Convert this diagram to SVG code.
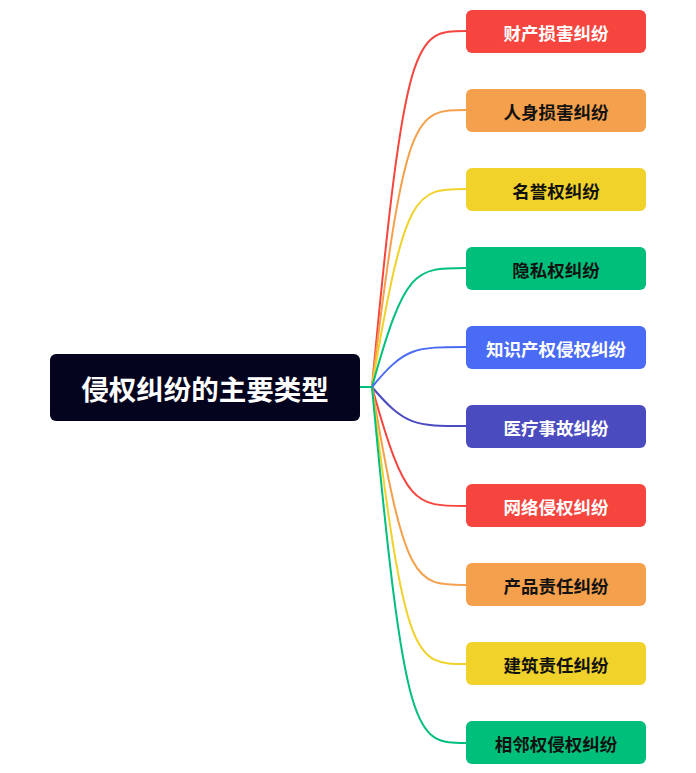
<svg xmlns="http://www.w3.org/2000/svg" width="696" height="773" viewBox="0 0 696 773">
<style>
text{font-family:"Noto Sans CJK SC","Noto Sans",sans-serif;font-weight:bold;text-anchor:middle;dominant-baseline:central}
.c{font-size:17.5px}
.w{fill:#ffffff}
.k{fill:#111111}
path{fill:none;stroke-width:2}
</style>
<rect width="696" height="773" fill="#ffffff"/>
<g id="connectors">
<path d="M372,387 C405,31 415,31 466,31" stroke="#F5453E"/>
<path d="M372,387 C405,110 415,110 466,110" stroke="#F4A04C"/>
<path d="M372,387 C405,189 415,189 466,189" stroke="#F0D22A"/>
<path d="M372,387 C405,268 415,268 466,268" stroke="#00BF7A"/>
<path d="M372,387 C405,347 415,347 466,347" stroke="#4A6BF5"/>
<path d="M372,387 C405,426 415,426 466,426" stroke="#4B4BC0"/>
<path d="M372,387 C405,506 415,506 466,506" stroke="#F5453E"/>
<path d="M372,387 C405,585 415,585 466,585" stroke="#F4A04C"/>
<path d="M372,387 C405,664 415,664 466,664" stroke="#F0D22A"/>
<path d="M372,387 C405,743 415,743 466,743" stroke="#00BF7A"/>
<path d="M360,387 L372,387" stroke="#00BF7A"/>
</g>
<g id="root">
<rect x="50" y="354" width="310" height="67" rx="6" fill="#05041E"/>
<text x="205" y="388" font-size="27.5" class="w">侵权纠纷的主要类型</text>
</g>
<g id="n1"><rect x="466" y="10" width="180" height="43" rx="6" fill="#F5453E"/><text x="556" y="32" class="c w">财产损害纠纷</text></g>
<g id="n2"><rect x="466" y="89" width="180" height="43" rx="6" fill="#F4A04C"/><text x="556" y="111" class="c k">人身损害纠纷</text></g>
<g id="n3"><rect x="466" y="168" width="180" height="43" rx="6" fill="#F0D22A"/><text x="556" y="190" class="c k">名誉权纠纷</text></g>
<g id="n4"><rect x="466" y="247" width="180" height="43" rx="6" fill="#00BF7A"/><text x="556" y="269" class="c k">隐私权纠纷</text></g>
<g id="n5"><rect x="466" y="326" width="180" height="43" rx="6" fill="#4A6BF5"/><text x="556" y="348" class="c w">知识产权侵权纠纷</text></g>
<g id="n6"><rect x="466" y="405" width="180" height="43" rx="6" fill="#4B4BC0"/><text x="556" y="427" class="c w">医疗事故纠纷</text></g>
<g id="n7"><rect x="466" y="484" width="180" height="43" rx="6" fill="#F5453E"/><text x="556" y="506" class="c w">网络侵权纠纷</text></g>
<g id="n8"><rect x="466" y="563" width="180" height="43" rx="6" fill="#F4A04C"/><text x="556" y="585" class="c k">产品责任纠纷</text></g>
<g id="n9"><rect x="466" y="642" width="180" height="43" rx="6" fill="#F0D22A"/><text x="556" y="664" class="c k">建筑责任纠纷</text></g>
<g id="n10"><rect x="466" y="721" width="180" height="43" rx="6" fill="#00BF7A"/><text x="556" y="743" class="c k">相邻权侵权纠纷</text></g>
</svg>
